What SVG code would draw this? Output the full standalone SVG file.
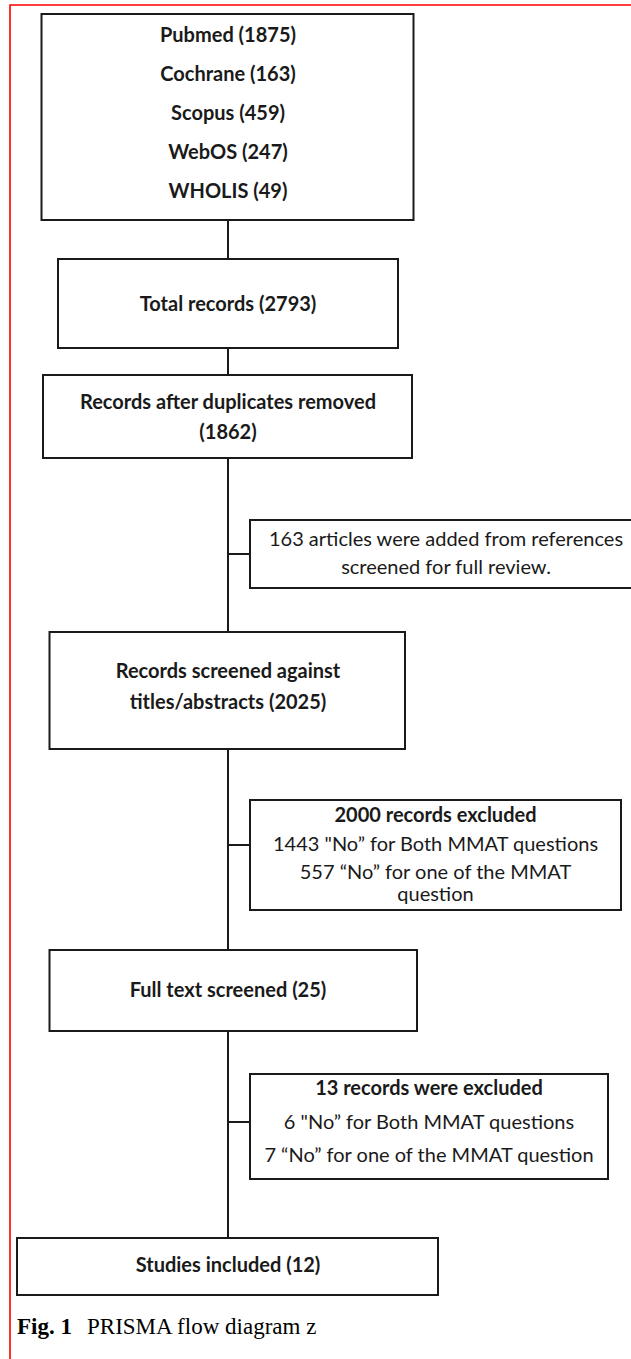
<svg xmlns="http://www.w3.org/2000/svg" width="631" height="1359" viewBox="0 0 631 1359">
<style>
.box{fill:#fff;stroke:#1a1a1a;stroke-width:2}
.frame{fill:none;stroke:#ff0000;stroke-width:1.6}
.b{font-family:Lato,"Liberation Sans",sans-serif;font-weight:bold;font-size:20px;fill:#1a1a1a;text-anchor:middle}
.r{font-family:Lato,"Liberation Sans",sans-serif;font-size:20px;fill:#1a1a1a;text-anchor:middle}
.conn{stroke:#1a1a1a;stroke-width:2;fill:none}
.cap{font-family:"Liberation Serif",serif;font-size:23px;fill:#000}
</style>
<rect width="631" height="1359" fill="#fff"/>
<path class="frame" d="M10,1360 V5 H640"/>
<g id="connectors">
<line class="conn" x1="228" y1="220" x2="228" y2="259"/>
<line class="conn" x1="228" y1="348" x2="228" y2="375"/>
<line class="conn" x1="228" y1="458" x2="228" y2="632"/>
<line class="conn" x1="228" y1="554" x2="250" y2="554"/>
<line class="conn" x1="228" y1="749" x2="228" y2="950"/>
<line class="conn" x1="228" y1="845" x2="250" y2="845"/>
<line class="conn" x1="228" y1="1031" x2="228" y2="1238"/>
<line class="conn" x1="228" y1="1122" x2="250" y2="1122"/>
</g>
<g id="sources">
<rect class="box" x="41.5" y="14" width="372" height="206"/>
<text class="b" x="228" y="42">Pubmed (1875)</text>
<text class="b" x="228" y="81">Cochrane (163)</text>
<text class="b" x="228" y="120">Scopus (459)</text>
<text class="b" x="228" y="159">WebOS (247)</text>
<text class="b" x="228" y="198">WHOLIS (49)</text>
</g>
<g id="total">
<rect class="box" x="58" y="259" width="340" height="89"/>
<text class="b" x="228" y="311">Total records (2793)</text>
</g>
<g id="dedup">
<rect class="box" x="43" y="375" width="369" height="83"/>
<text class="b" x="228" y="409">Records after duplicates removed</text>
<text class="b" x="228" y="439">(1862)</text>
</g>
<g id="added">
<rect class="box" x="250" y="520" width="392" height="68"/>
<text class="r" x="446" y="546">163 articles were added from references</text>
<text class="r" x="446" y="574">screened for full review.</text>
</g>
<g id="screened">
<rect class="box" x="49.5" y="632" width="355.5" height="117"/>
<text class="b" x="228" y="678">Records screened against</text>
<text class="b" x="228" y="709">titles/abstracts (2025)</text>
</g>
<g id="excluded1">
<rect class="box" x="250" y="800" width="371" height="110"/>
<text class="b" x="435.5" y="822">2000 records excluded</text>
<text class="r" x="435.5" y="851">1443 "No” for Both MMAT questions</text>
<text class="r" x="435.5" y="879">557 “No” for one of the MMAT</text>
<text class="r" x="435.5" y="901">question</text>
</g>
<g id="fulltext">
<rect class="box" x="49.5" y="950" width="367.5" height="81"/>
<text class="b" x="228" y="997">Full text screened (25)</text>
</g>
<g id="excluded2">
<rect class="box" x="250" y="1074" width="358" height="105"/>
<text class="b" x="429" y="1095">13 records were excluded</text>
<text class="r" x="429" y="1129">6 "No” for Both MMAT questions</text>
<text class="r" x="429" y="1162">7 “No” for one of the MMAT question</text>
</g>
<g id="included">
<rect class="box" x="17" y="1238" width="421" height="57"/>
<text class="b" x="228" y="1272">Studies included (12)</text>
</g>
<text class="cap" x="17" y="1334"><tspan font-weight="bold">Fig. 1</tspan><tspan x="87">PRISMA flow diagram z</tspan></text>
</svg>
